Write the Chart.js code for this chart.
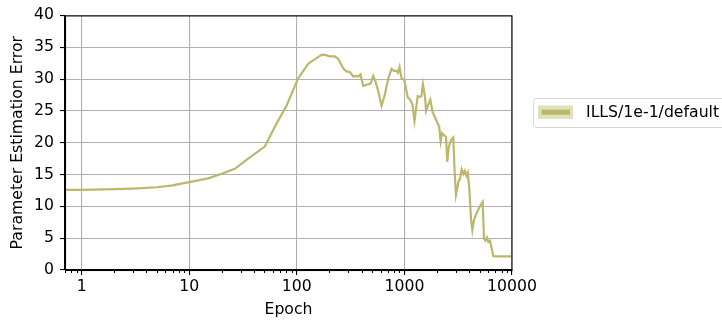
<!DOCTYPE html>
<html>
<head>
<meta charset="utf-8">
<script src="https://cdn.jsdelivr.net/npm/chart.js@4/dist/chart.umd.min.js"></script>
<style>
  html, body { margin: 0; padding: 0; background: #ffffff; }
  #wrap { position: relative; width: 722px; height: 322px; }
</style>
</head>
<body>
<div id="wrap"><canvas id="c" width="722" height="322"></canvas></div>
<script>
// ---- data ----
const seriesLabel = "ILLS/1e-1/default";
const epochs = [0.7, 1, 2, 3, 5, 7, 10, 15, 20.6, 26.5, 35.3, 50.4, 64.7, 80.2, 102.8, 127.4, 141.8, 169.7, 182, 205.6, 225.6, 242, 270, 290, 311, 334, 354, 372, 391, 414, 445, 485, 513, 543, 571, 613, 659, 707, 760, 798, 846, 872, 902, 942, 1000, 1074, 1126, 1188, 1240, 1330, 1393, 1440, 1485, 1552, 1590, 1690, 1740, 1828, 1922, 1993, 2107, 2173, 2239, 2329, 2437, 2500, 2580, 2690, 2847, 2931, 3014, 3190, 3280, 3405, 3530, 3640, 3770, 3880, 4010, 4160, 4280, 4433, 4757, 5040, 5340, 5495, 5660, 5850, 6025, 6240, 6430, 6700, 7180, 10000];
const errors = [12.6, 12.6, 12.7, 12.8, 13.0, 13.3, 13.8, 14.4, 15.2, 15.9, 17.5, 19.4, 23.0, 25.8, 30.1, 32.4, 32.95, 33.8, 33.8, 33.55, 33.55, 33.2, 31.7, 31.2, 31.1, 30.4, 30.5, 30.4, 30.75, 28.9, 29.1, 29.3, 30.5, 29.4, 28.1, 25.8, 27.6, 30.1, 31.6, 31.3, 31.3, 31.0, 31.9, 30.1, 29.8, 27.1, 26.8, 26.0, 23.4, 27.3, 27.2, 27.3, 29.2, 27.3, 25.0, 26.3, 26.8, 24.8, 24.0, 23.4, 22.5, 20.2, 21.5, 21.2, 20.9, 17.0, 19.2, 20.3, 20.8, 15.3, 11.8, 14.0, 14.3, 15.8, 15.1, 15.6, 14.8, 15.3, 12.8, 8.0, 6.3, 7.9, 9.2, 10.0, 10.7, 4.9, 4.6, 5.1, 4.4, 4.6, 3.6, 2.2, 2.15, 2.15];
const xMajorTicks = [1, 10, 100, 1000, 10000];
const xMinorTicks = [0.7, 0.8, 0.9, 2, 3, 4, 5, 6, 7, 8, 9, 20, 30, 40, 50, 60, 70, 80, 90, 200, 300, 400, 500, 600, 700, 800, 900, 2000, 3000, 4000, 5000, 6000, 7000, 8000, 9000];
const yTickValues = [0, 5, 10, 15, 20, 25, 30, 35, 40];
const xTitle = "Epoch";
const yTitle = "Parameter Estimation Error";

const lineColor = "#bdb76b";
const FONT = "'DejaVu Sans', sans-serif";
const FS = 15.7;

const framePlugin = {
  id: 'frame',
  afterDraw(chart) {
    const ctx = chart.ctx;
    const a = chart.chartArea;
    const xs = chart.scales.x;
    ctx.save();
    // minor ticks on x axis
    ctx.strokeStyle = '#000000';
    ctx.lineWidth = 1;
    ctx.beginPath();
    for (const v of xMinorTicks) {
      const px = Math.round(xs.getPixelForValue(v)) + 0.5;
      ctx.moveTo(px, a.bottom);
      ctx.lineTo(px, a.bottom + 3);
    }
    ctx.stroke();
    // spines
    ctx.strokeStyle = '#000000';
    ctx.lineWidth = 1.1;
    ctx.strokeRect(a.left + 0.5, a.top + 0.5, a.right - a.left - 0.5, a.bottom - a.top);
    // legend
    const lx = 533.5, ly = 98.5, lw = 220, lh = 29, r = 3;
    ctx.fillStyle = '#ffffff';
    ctx.strokeStyle = '#d6d6d6';
    ctx.lineWidth = 1;
    ctx.beginPath();
    ctx.moveTo(lx + r, ly);
    ctx.lineTo(lx + lw - r, ly);
    ctx.arcTo(lx + lw, ly, lx + lw, ly + r, r);
    ctx.lineTo(lx + lw, ly + lh - r);
    ctx.arcTo(lx + lw, ly + lh, lx + lw - r, ly + lh, r);
    ctx.lineTo(lx + r, ly + lh);
    ctx.arcTo(lx, ly + lh, lx, ly + lh - r, r);
    ctx.lineTo(lx, ly + r);
    ctx.arcTo(lx, ly, lx + r, ly, r);
    ctx.closePath();
    ctx.fill();
    ctx.stroke();
    const ds = chart.data.datasets[0];
    ctx.fillStyle = 'rgba(189,183,107,0.45)';
    ctx.fillRect(538, 105.5, 35, 13.5);
    ctx.fillStyle = ds.borderColor;
    ctx.fillRect(541.5, 109.7, 28.5, 5);
    ctx.fillStyle = '#000000';
    ctx.font = FS + 'px ' + FONT;
    ctx.textBaseline = 'middle';
    ctx.textAlign = 'left';
    ctx.fillText(ds.label, 586, 113);
    ctx.restore();
  }
};

const points = epochs.map((e, i) => ({ x: e, y: errors[i] }));

new Chart(document.getElementById('c'), {
  type: 'line',
  data: {
    datasets: [{
      label: seriesLabel,
      data: points,
      borderColor: lineColor,
      borderWidth: 2.2,
      pointRadius: 0,
      tension: 0,
      fill: false
    }]
  },
  options: {
    responsive: false,
    animation: false,
    events: [],
    layout: { padding: { left: 0, top: 9, right: 210, bottom: 0 } },
    plugins: { legend: { display: false }, tooltip: { enabled: false } },
    scales: {
      x: {
        type: 'logarithmic',
        min: 0.7,
        max: 10000,
        afterBuildTicks(scale) { scale.ticks = xMajorTicks.map(v => ({ value: v })); },
        afterFit(scale) { scale.height = 52; },
        grid: { color: '#b0b0b0', lineWidth: 1.1, tickColor: '#000000', tickLength: 5, drawTicks: true },
        border: { display: true, color: '#000000', width: 1.1 },
        ticks: {
          autoSkip: false, maxRotation: 0, minRotation: 0, padding: 3,
          color: '#000000', font: { family: FONT, size: FS },
          callback: (v) => String(v)
        },
        title: { display: true, text: xTitle, color: '#000000', font: { family: FONT, size: FS }, padding: { top: 0, bottom: 2.5 } }
      },
      y: {
        type: 'linear',
        min: 0,
        max: 40,
        afterBuildTicks(scale) { scale.ticks = yTickValues.map(v => ({ value: v })); },
        afterFit(scale) { scale.width = 65; },
        grid: { color: '#b0b0b0', lineWidth: 1.1, tickColor: '#000000', tickLength: 5, drawTicks: true },
        border: { display: true, color: '#000000', width: 1.1 },
        ticks: {
          padding: 6, color: '#000000', font: { family: FONT, size: FS },
          callback: (v) => String(v)
        },
        title: { display: true, text: yTitle, color: '#000000', font: { family: FONT, size: FS }, padding: { top: 9, bottom: 0 } }
      }
    }
  },
  plugins: [framePlugin]
});
</script>
</body>
</html>
